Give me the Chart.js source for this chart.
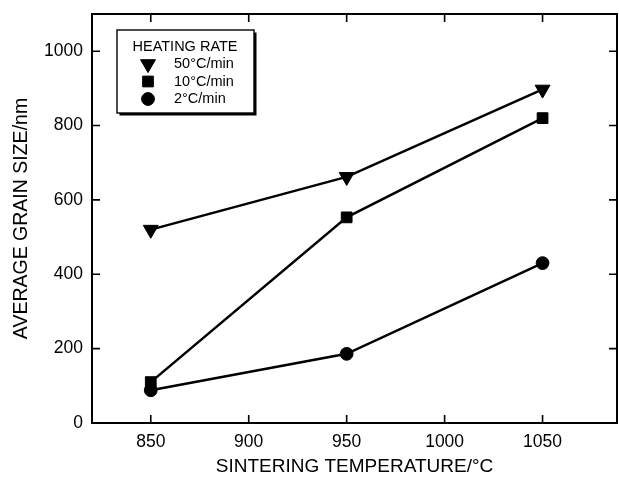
<!DOCTYPE html>
<html>
<head>
<meta charset="utf-8">
<script src="https://cdn.jsdelivr.net/npm/chart.js@4/dist/chart.umd.min.js"></script>
<style>
  html, body { margin: 0; padding: 0; background: #fff; }
</style>
</head>
<body>
<canvas id="c" width="619" height="479"></canvas>
<script>
// Sintering temperature (°C) and average grain size (nm) for three heating rates
const temperatures = [850, 950, 1050];
const rate50 = [520, 662, 897];
const rate10 = [110, 553, 820];
const rate2 = [88, 186, 430];
const seriesLabels = ['50°C/min', '10°C/min', '2°C/min'];
const legendTitle = 'HEATING RATE';
const xTickValues = [850, 900, 950, 1000, 1050];
const yTickValues = [0, 200, 400, 600, 800, 1000];

const FONT = "'Liberation Sans', Arial, Helvetica, sans-serif";

const toPoints = vals => temperatures.map((t, i) => ({ x: t, y: vals[i] }));

function series(label, vals, style, radius, rotation) {
  return {
    label,
    data: toPoints(vals),
    borderColor: '#000',
    borderWidth: 2.5,
    backgroundColor: '#000',
    pointStyle: style,
    pointRotation: rotation,
    pointRadius: radius,
    pointHoverRadius: radius,
    pointBackgroundColor: '#000',
    pointBorderColor: '#000',
    pointBorderWidth: 1,
    tension: 0,
    fill: false
  };
}

// Keep the plot box at fixed edges, without the automatic label overhang padding
function fixScale(s, size) {
  if (s.isHorizontal()) s.height = size; else s.width = size;
  s.paddingLeft = 0; s.paddingRight = 0; s.paddingTop = 0; s.paddingBottom = 0;
}

// Box around the plot area with inward tick marks on all four sides
const framePlugin = {
  id: 'frame',
  beforeDatasetsDraw(chart) {
    const { ctx, chartArea: a, scales: { x, y } } = chart;
    ctx.save();
    ctx.strokeStyle = '#000';
    ctx.lineWidth = 2;
    ctx.strokeRect(a.left, a.top, a.right - a.left, a.bottom - a.top);
    ctx.lineWidth = 1.6;
    ctx.beginPath();
    const len = 8;
    x.ticks.forEach(t => {
      const px = x.getPixelForValue(t.value);
      ctx.moveTo(px, a.bottom); ctx.lineTo(px, a.bottom - len);
      ctx.moveTo(px, a.top); ctx.lineTo(px, a.top + len);
    });
    y.ticks.forEach(t => {
      const py = y.getPixelForValue(t.value);
      ctx.moveTo(a.left, py); ctx.lineTo(a.left + len, py);
      ctx.moveTo(a.right, py); ctx.lineTo(a.right - len, py);
    });
    ctx.stroke();
    ctx.restore();
  }
};

// Boxed legend with a drop shadow in the upper-left corner of the plot
const boxLegendPlugin = {
  id: 'boxLegend',
  afterDraw(chart) {
    const { ctx, chartArea: a } = chart;
    const bx = a.left + 25, by = a.top + 16, bw = 137, bh = 83;
    ctx.save();
    ctx.fillStyle = '#000';
    ctx.fillRect(bx + 2.5, by + 2.5, bw, bh);
    ctx.fillStyle = '#fff';
    ctx.fillRect(bx, by, bw, bh);
    ctx.strokeStyle = '#000';
    ctx.lineWidth = 1.4;
    ctx.strokeRect(bx, by, bw, bh);

    ctx.fillStyle = '#000';
    ctx.textBaseline = 'middle';
    ctx.textAlign = 'center';
    ctx.font = '14.5px ' + FONT;
    ctx.fillText(legendTitle, bx + 68, by + 17);

    ctx.textAlign = 'left';
    chart.data.datasets.forEach((ds, i) => {
      const yy = by + 34 + i * 17.5;
      ctx.fillStyle = '#000';
      ctx.strokeStyle = '#000';
      ctx.lineWidth = 1;
      Chart.helpers.drawPoint(ctx, {
        pointStyle: ds.pointStyle,
        rotation: ds.pointRotation || 0,
        radius: ds.pointRadius,
        borderWidth: 1
      }, bx + 31, yy);
      ctx.fillText(ds.label, bx + 57, yy);
    });
    ctx.restore();
  }
};

new Chart(document.getElementById('c'), {
  type: 'line',
  data: {
    datasets: [
      series(seriesLabels[0], rate50, 'triangle', 8.6, 180),
      series(seriesLabels[1], rate10, 'rect', 7.6, 0),
      series(seriesLabels[2], rate2, 'circle', 6.4, 0)
    ]
  },
  options: {
    responsive: false,
    animation: false,
    devicePixelRatio: 1,
    layout: { autoPadding: false, padding: { left: 0, top: 14, right: 2, bottom: 0 } },
    plugins: {
      legend: { display: false },
      tooltip: { enabled: false }
    },
    scales: {
      x: {
        type: 'linear',
        min: 820,
        max: 1088,
        afterBuildTicks: s => { s.ticks = xTickValues.map(v => ({ value: v })); },
        afterFit: s => fixScale(s, 56),
        grid: { display: false, drawTicks: false },
        border: { display: false },
        ticks: {
          color: '#000',
          padding: 9,
          maxRotation: 0,
          callback: v => String(v),
          font: { family: FONT, size: 17.5 }
        },
        title: {
          display: true,
          text: 'SINTERING TEMPERATURE/°C',
          color: '#000',
          padding: { top: 0, bottom: 1 },
          font: { family: FONT, size: 19 }
        }
      },
      y: {
        type: 'linear',
        min: 0,
        max: 1100,
        afterBuildTicks: s => { s.ticks = yTickValues.map(v => ({ value: v })); },
        afterFit: s => fixScale(s, 92),
        grid: { display: false, drawTicks: false },
        border: { display: false },
        ticks: {
          color: '#000',
          padding: 9,
          callback: v => String(v),
          font: { family: FONT, size: 17.5 }
        },
        title: {
          display: true,
          text: 'AVERAGE GRAIN SIZE/nm',
          color: '#000',
          padding: { top: 10, bottom: 0 },
          font: { family: FONT, size: 19.5 }
        }
      }
    }
  },
  plugins: [framePlugin, boxLegendPlugin]
});
</script>
</body>
</html>
